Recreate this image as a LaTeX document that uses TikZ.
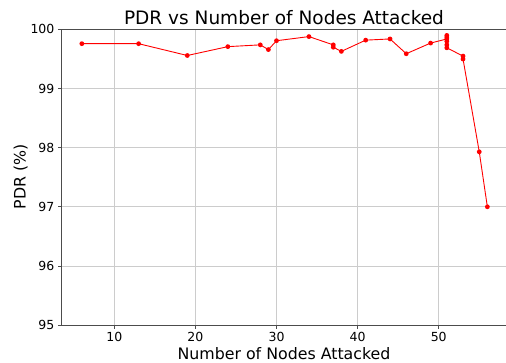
\documentclass[tikz,border=0pt]{standalone}
\usepackage{fontspec}
\setmainfont{DejaVu Sans}
\begin{document}
\begin{tikzpicture}[x=1pt,y=1pt,
  spine/.style={draw=black!70, line width=0.8pt},
  gridline/.style={draw=black!20, line width=0.8pt},
  series/.style={draw=red, line width=0.9pt, line join=round},
  dot/.style={fill=red},
  ticklab/.style={font=\fontsize{12.5}{14}\selectfont, inner sep=0pt},
  axlab/.style={font=\fontsize{15.8}{18}\selectfont, inner sep=0pt},
  titlelab/.style={font=\fontsize{18.5}{22}\selectfont, inner sep=0pt}]
\useasboundingbox (0,0) rectangle (506,362);
\fill[white] (0,0) rectangle (506,362);
\begin{scope}[shift={(33.2,37)}, x=8.11pt, y=59.1pt]
  % grid
  \foreach \v in {10,20,30,40,50} \draw[gridline] (\v,0) -- (\v,5);
  \foreach \v in {1,...,4} \draw[gridline] (3.46,\v) -- (58.5,\v);
  % spines
  \draw[spine] (58.5,0) -- (3.46,0) -- (3.46,5) -- (58.5,5);
  % x ticks
  \foreach \v in {10,20,30,40,50} {
    \draw[spine] (\v,0) -- ++(0,-3.5pt);
    \node[ticklab, anchor=base] (xt\v) at ([yshift=-16pt]\v,0) {\v};
  }
  % y ticks
  \foreach \v/\lab in {0/95,1/96,2/97,3/98,4/99,5/100} {
    \draw[spine] (3.46,\v) -- ++(-3.5pt,0);
    \node[ticklab, anchor=base east] (yt\lab) at ([xshift=-6.7pt,yshift=-4.5pt]3.46,\v) {\lab};
  }
  % data
  \foreach \x/\y [count=\i] in {6/99.76,13/99.76,19/99.56,24/99.71,28/99.74,29/99.66,30/99.81,34/99.88,37/99.74,37/99.70,38/99.63,41/99.82,44/99.84,46/99.59,49/99.77,51/99.84,51/99.90,51/99.87,51/99.80,51/99.74,51/99.69,53/99.55,53/99.50,55/97.93,56/97.00}
    \coordinate (p\i) at (\x,\y-95);
  \draw[series] (p1) \foreach \i in {2,...,25} { -- (p\i) };
  \foreach \i in {1,...,25} \fill[dot] (p\i) circle (2.4pt);
\end{scope}
\node[titlelab, anchor=base] (title) at (284,337) {PDR vs Number of Nodes Attacked};
\node[axlab, anchor=base] (xlabel) at (284,3) {Number of Nodes Attacked};
\node[axlab, anchor=base, rotate=90] (ylabel) at (25.5,185) {PDR (\%)};
\end{tikzpicture}
\end{document}
